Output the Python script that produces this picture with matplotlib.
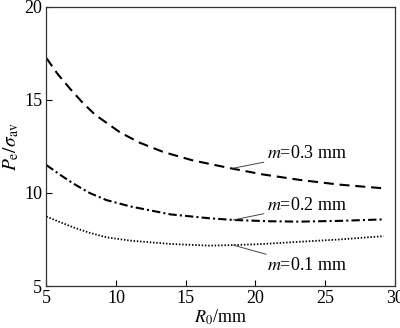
import matplotlib
matplotlib.use("Agg")
import matplotlib.pyplot as plt

plt.rcParams['font.family'] = ['Liberation Serif', 'DejaVu Serif']
plt.rcParams['mathtext.fontset'] = 'stix'

# Contact pressure ratio vs. tool nose radius for three wear widths
r0_m03 = [5.0, 5.8, 6.7, 7.6, 8.5, 10.3, 11.7, 13.4, 15.5, 18.2, 20.5, 23.2, 26.0, 29.2]
m03 = [17.25, 16.4, 15.6, 14.85, 14.2, 13.25, 12.7, 12.2, 11.75, 11.33, 11.0, 10.7, 10.45, 10.25]

r0_m02 = [5.0, 6.0, 6.9, 8.1, 9.3, 11.0, 13.9, 16.7, 18.4, 21.0, 23.2, 26.0, 29.2]
m02 = [11.5, 10.97, 10.52, 10.0, 9.62, 9.28, 8.85, 8.64, 8.55, 8.48, 8.46, 8.5, 8.58]

r0_m01 = [5.0, 6.9, 8.1, 9.3, 11.0, 13.9, 16.7, 18.4, 20.3, 23.2, 26.0, 29.2]
m01 = [8.73, 8.16, 7.86, 7.62, 7.44, 7.26, 7.17, 7.2, 7.25, 7.38, 7.5, 7.68]

x_ticks = [5, 10, 15, 20, 25, 30]
y_ticks = [5, 10, 15, 20]

fig = plt.figure(figsize=(4.0, 3.28), dpi=100)
ax = fig.add_axes([0.116, 0.128, 0.871, 0.851])

ax.plot(r0_m03, m03, color='black', lw=1.5, dashes=(4.8, 2.8))
ax.plot(r0_m02, m02, color='black', lw=1.5, dashes=(4, 1.5, 1, 1.5))
ax.plot(r0_m01, m01, color='black', lw=1.3, dashes=(0.8, 1.0))

ax.set_xlim(5, 30)
ax.set_ylim(5, 20)
ax.set_xticks(x_ticks)
ax.set_yticks(y_ticks)
ax.tick_params(direction='in', length=4, width=0.8, labelsize=13, pad=3)
for s in ax.spines.values():
    s.set_linewidth(0.9)
    s.set_color('#333333')

ax.set_xlabel(r'$R_0$/mm', fontsize=13, labelpad=0)
ax.set_ylabel(r'$P_\mathrm{e}/\sigma_\mathrm{av}$', fontsize=14, labelpad=2)

labels = [(11.33, 12.1, r'$m$=0.3 mm'),
          (8.55, 9.35, r'$m$=0.2 mm'),
          (7.2, 6.1, r'$m$=0.1 mm')]
for yv, ty, txt in labels:
    ax.annotate(txt, xy=(18.4, yv), xytext=(20.8, ty), fontsize=13,
                va='center', ha='left',
                arrowprops=dict(arrowstyle='-', color='#444444', lw=0.7,
                                shrinkA=0, shrinkB=0))

fig.savefig('out.png', dpi=100)
